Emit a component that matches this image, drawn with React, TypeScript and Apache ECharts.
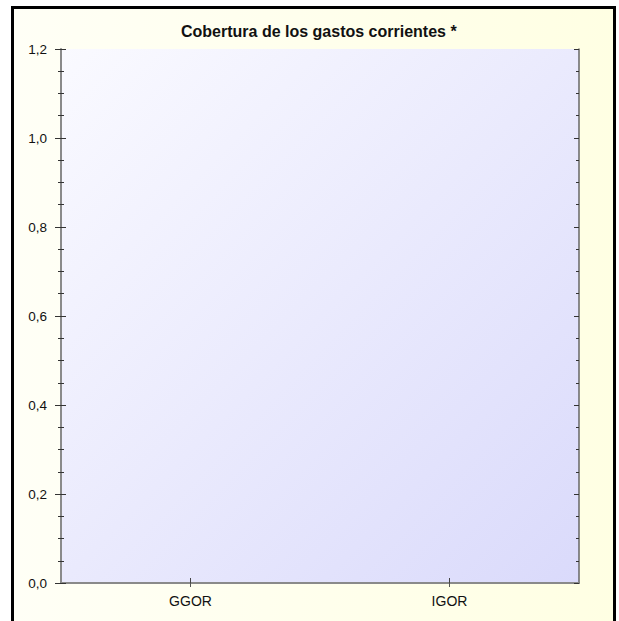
import React, { useEffect, useRef } from "react";
import * as echarts from "echarts";

const categories = ["GGOR", "IGOR"];
const seriesValues = [0, 0];
const yTicks = [0, 0.2, 0.4, 0.6, 0.8, 1.0, 1.2];
const titleText = "Cobertura de los gastos corrientes *";

const FONT = "'Liberation Sans', Arial, sans-serif";

export default function App() {
  const ref = useRef<HTMLDivElement>(null);
  useEffect(() => {
    if (!ref.current) return;
    const chart = echarts.init(ref.current, undefined, { renderer: "svg" });
    const yMin = yTicks[0];
    const yMax = yTicks[yTicks.length - 1];
    const yInterval = yTicks[1] - yTicks[0];
    const baseY = {
      type: "value" as const,
      min: yMin,
      max: yMax,
      interval: yInterval,
      splitLine: { show: false },
    };
    chart.setOption({
      animation: false,
      backgroundColor: "#ffffff",
      textStyle: { fontFamily: FONT },
      title: {
        text: titleText,
        left: 176,
        top: 18,
        textStyle: { fontFamily: FONT, fontSize: 16, fontWeight: "bold", color: "#111" },
      },
      graphic: [
        {
          type: "rect",
          z: -100,
          shape: { x: 12.5, y: 7.5, width: 602, height: 640 },
          style: {
            fill: {
              type: "linear",
              x: 0,
              y: 0,
              x2: 1,
              y2: 0,
              colorStops: [
                { offset: 0, color: "#fffff6" },
                { offset: 1, color: "#ffffe3" },
              ],
            },
            stroke: "#000000",
            lineWidth: 3,
          },
        },
      ],
      grid: {
        left: 61,
        top: 49,
        width: 518,
        height: 534,
        show: true,
        borderWidth: 0,
        backgroundColor: {
          type: "linear",
          x: 0,
          y: 0,
          x2: 1,
          y2: 1,
          colorStops: [
            { offset: 0, color: "#fafaff" },
            { offset: 1, color: "#dadafb" },
          ],
        },
      },
      xAxis: [
        {
          type: "category",
          data: categories,
          position: "bottom",
          axisLine: { show: true, lineStyle: { color: "#333333", width: 1.5 } },
          axisTick: { show: true, alignWithLabel: true, length: 4, lineStyle: { color: "#444" } },
          axisLabel: { margin: 11, fontSize: 14, fontFamily: FONT, color: "#111" },
        },
        {
          type: "category",
          data: categories,
          position: "bottom",
          axisLine: { show: false },
          axisTick: { show: true, inside: true, alignWithLabel: true, length: 5, lineStyle: { color: "#444" } },
          axisLabel: { show: false },
        },
        {
          type: "category",
          data: categories,
          position: "top",
          axisLine: { show: true, lineStyle: { color: "#8a8a8a", width: 2 } },
          axisTick: { show: true, inside: true, alignWithLabel: true, length: 4, lineStyle: { color: "#555" } },
          axisLabel: { show: false },
        },
      ],
      yAxis: [
        {
          ...baseY,
          position: "left",
          axisLine: { show: true, lineStyle: { color: "#8a8a8a", width: 2 } },
          axisTick: { show: true, length: 6, lineStyle: { color: "#333" } },
          minorTick: { show: true, splitNumber: 4, length: 3, lineStyle: { color: "#333" } },
          axisLabel: {
            margin: 14,
            fontSize: 13.5,
            fontFamily: FONT,
            color: "#111",
            formatter: (v: number) => v.toFixed(1).replace(".", ","),
          },
        },
        {
          ...baseY,
          position: "left",
          axisLine: { show: false },
          axisTick: { show: true, inside: true, length: 5, lineStyle: { color: "#333" } },
          minorTick: { show: true, splitNumber: 4, length: 3, lineStyle: { color: "#333" } },
          axisLabel: { show: false },
        },
        {
          ...baseY,
          position: "right",
          axisLine: { show: true, lineStyle: { color: "#666666", width: 1.5 } },
          axisTick: { show: true, inside: true, length: 5, lineStyle: { color: "#333" } },
          minorTick: { show: true, splitNumber: 4, length: 3, lineStyle: { color: "#333" } },
          axisLabel: { show: false },
        },
      ],
      series: [
        {
          type: "bar",
          xAxisIndex: 0,
          yAxisIndex: 0,
          data: seriesValues,
          barWidth: "40%",
          itemStyle: { color: "#4a6fd0" },
        },
      ],
    });
    return () => chart.dispose();
  }, []);
  return (
    <div
      ref={ref}
      style={{ position: "absolute", left: 0, top: 0, width: 619, height: 621 }}
    />
  );
}
